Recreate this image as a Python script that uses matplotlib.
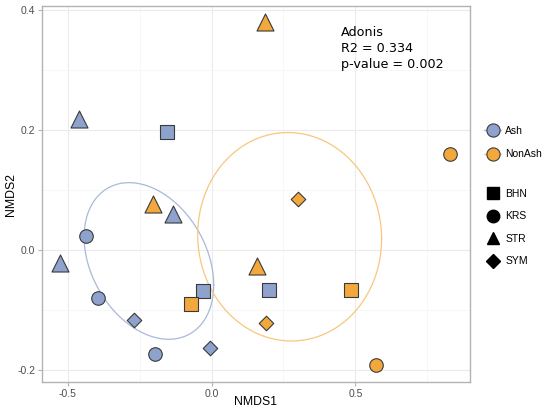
import numpy as np
import matplotlib
matplotlib.use('Agg')
import matplotlib.pyplot as plt
from matplotlib.lines import Line2D

# NMDS scores
ash_x = [-0.460, -0.153, -0.133, -0.437, -0.526, -0.396, -0.271, -0.196, -0.005, -0.031, 0.201]
ash_y = [0.218, 0.196, 0.060, 0.023, -0.022, -0.080, -0.117, -0.173, -0.163, -0.069, -0.066]
ash_site = ['STR', 'BHN', 'STR', 'KRS', 'STR', 'KRS', 'SYM', 'KRS', 'SYM', 'BHN', 'BHN']

non_x = [0.186, -0.202, -0.072, 0.157, 0.189, 0.828, 0.299, 0.484, 0.571]
non_y = [0.380, 0.077, -0.090, -0.026, -0.121, 0.160, 0.085, -0.067, -0.192]
non_site = ['STR', 'STR', 'BHN', 'STR', 'SYM', 'KRS', 'SYM', 'BHN', 'KRS']

# ellipses: centre and shape matrix (data units)
ash_centre = (-0.2175, -0.0183)
ash_shape = [[0.0507, -0.0090], [-0.0090, 0.01703]]
non_centre = (0.2715, 0.022)
non_shape = [[0.10205, -0.00109], [-0.00109, 0.03016]]

groups = ['Ash', 'NonAsh']
sites = ['BHN', 'KRS', 'STR', 'SYM']

FILL = {'Ash': '#8DA2CC', 'NonAsh': '#F2A83D'}
RING = {'Ash': '#A9B9DA', 'NonAsh': '#F7C77F'}
MARK = {'BHN': 's', 'KRS': 'o', 'STR': '^', 'SYM': 'D'}
SIZE = {'BHN': 95, 'KRS': 95, 'STR': 150, 'SYM': 55}

plt.rcParams['font.family'] = ['Liberation Sans', 'DejaVu Sans']

fig = plt.figure(figsize=(5.5, 4.11), dpi=100)
ax = fig.add_axes([0.0758, 0.0698, 0.7787, 0.9163])
ax.set_xlim(-0.59, 0.898)
ax.set_ylim(-0.2205, 0.407)


def draw_ellipse(centre, shape, color):
    t = np.linspace(0, 2 * np.pi, 300)
    L = np.linalg.cholesky(np.array(shape))
    pts = L @ np.vstack([np.cos(t), np.sin(t)])
    ax.plot(centre[0] + pts[0], centre[1] + pts[1], color=color, lw=0.9, zorder=2)


draw_ellipse(ash_centre, ash_shape, RING['Ash'])
draw_ellipse(non_centre, non_shape, RING['NonAsh'])

for grp, xs, ys, ss in [('Ash', ash_x, ash_y, ash_site), ('NonAsh', non_x, non_y, non_site)]:
    for x, y, s in zip(xs, ys, ss):
        ax.scatter(x, y, marker=MARK[s], s=SIZE[s], c=FILL[grp],
                   edgecolors='#3a3a3a', linewidths=0.8, zorder=3)

ax.text(0.45, 0.373, 'Adonis\nR2 = 0.334\np-value = 0.002', family='DejaVu Sans',
        fontsize=9.2, va='top', ha='left', linespacing=1.27)

# theme
ax.set_xticks([-0.5, 0.0, 0.5])
ax.set_xticks([-0.25, 0.25, 0.75], minor=True)
ax.set_yticks([-0.2, 0.0, 0.2, 0.4])
ax.set_yticks([-0.1, 0.1, 0.3], minor=True)
ax.grid(True, which='major', color='#ebebeb', lw=0.8)
ax.grid(True, which='minor', color='#f4f4f4', lw=0.5)
ax.set_axisbelow(True)
for sp in ax.spines.values():
    sp.set_color('#b3b3b3')
    sp.set_linewidth(1.0)
ax.tick_params(which='major', length=3, color='#b3b3b3', labelcolor='#4d4d4d', labelsize=7.5, pad=1.5)
ax.tick_params(which='minor', length=0)
ax.set_xticklabels(['-0.5', '0.0', '0.5'])
ax.set_yticklabels(['-0.2', '0.0', '0.2', '0.4'])

# axis titles
fig.text(0.0758 + 0.7787 / 2, 1 - 402 / 411, 'NMDS1', fontsize=8.8,
         ha='center', va='center')
ax.set_ylabel('NMDS2', fontsize=8.8)
ax.yaxis.set_label_coords(-0.058, 0.5)

# legends
h1 = [Line2D([], [], marker='o', color=RING[g], lw=0.9, markersize=9.5,
             markerfacecolor=FILL[g], markeredgecolor='#3a3a3a', markeredgewidth=0.8)
      for g in groups]
fig.legend(h1, groups, loc='upper left', bbox_to_anchor=(0.873, 0.704),
           frameon=False, fontsize=7.5, handlelength=1.6, handletextpad=0.4,
           labelspacing=1.3, borderaxespad=0)
h2 = [Line2D([], [], marker=MARK[s], color='black', lw=0, markersize=9 if s != 'SYM' else 7)
      for s in sites]
fig.legend(h2, sites, loc='upper left', bbox_to_anchor=(0.873, 0.551),
           frameon=False, fontsize=7.5, handlelength=1.6, handletextpad=0.4,
           labelspacing=1.2, borderaxespad=0)

fig.savefig('out.png', dpi=100)
